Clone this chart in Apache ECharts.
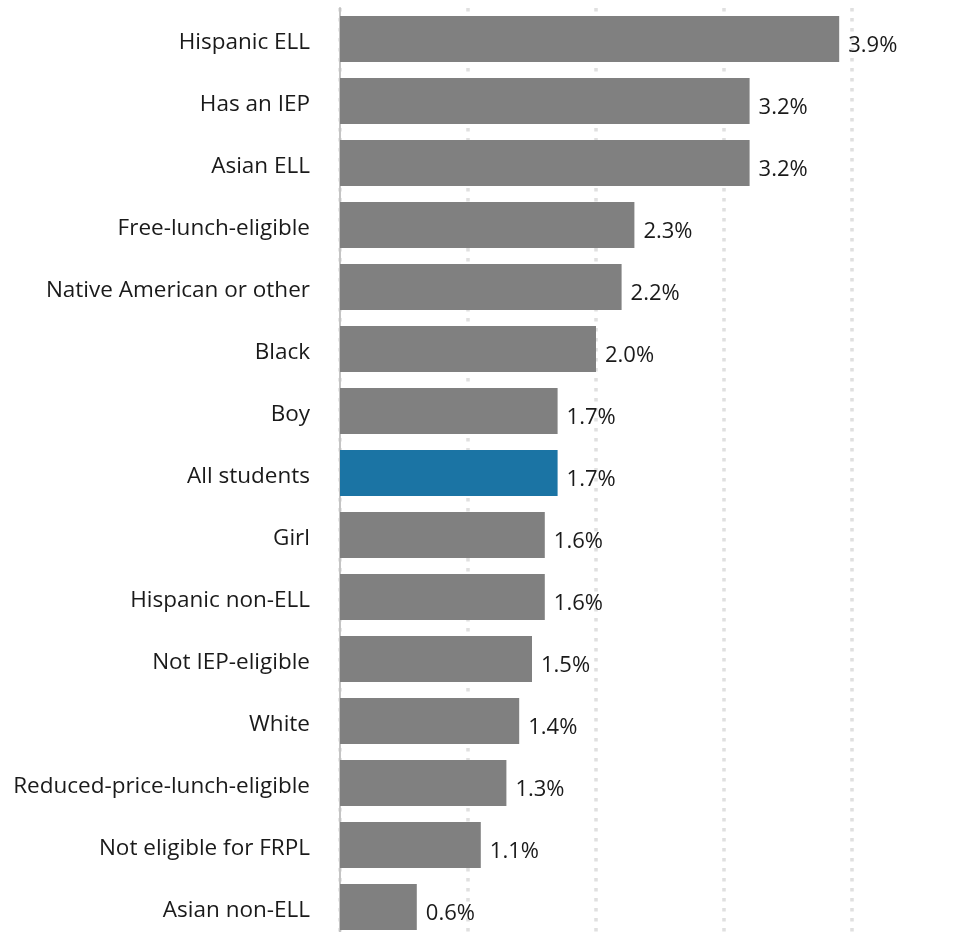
<!DOCTYPE html>
<html>
<head>
<meta charset="utf-8">
<script src="https://cdn.jsdelivr.net/npm/echarts@6/dist/echarts.min.js"></script>
<style>
  html, body { margin: 0; padding: 0; background: #fff; }
  #chart { width: 976px; height: 932px; }
</style>
</head>
<body>
<div id="chart"></div>
<script>
// Student groups, listed top to bottom
const categories = [
  'Hispanic ELL', 'Has an IEP', 'Asian ELL', 'Free-lunch-eligible',
  'Native American or other', 'Black', 'Boy', 'All students', 'Girl',
  'Hispanic non-ELL', 'Not IEP-eligible', 'White',
  'Reduced-price-lunch-eligible', 'Not eligible for FRPL', 'Asian non-ELL'
];
// Share of students, in percent
const values = [3.9, 3.2, 3.2, 2.3, 2.2, 2.0, 1.7, 1.7, 1.6, 1.6, 1.5, 1.4, 1.3, 1.1, 0.6];
// Group drawn in the highlight colour
const highlighted = 'All students';

const GRAY = '#808080';
const BLUE = '#1b74a4';
const FONT = '"Open Sans", Lato, sans-serif';

const chart = echarts.init(document.getElementById('chart'), null, { renderer: 'canvas' });

chart.setOption({
  animation: false,
  grid: {
    left: 340, top: 8, width: 512, height: 930,
    containLabel: false,
    outerBoundsMode: 'none'
  },
  xAxis: {
    type: 'value',
    min: 0,
    max: 4,
    interval: 1,
    axisLabel: { show: false },
    axisLine: { show: false },
    axisTick: { show: false },
    splitLine: {
      show: true,
      lineStyle: { color: '#e0e0e0', width: 3.5, type: [3.5, 6.5] }
    }
  },
  yAxis: {
    type: 'category',
    inverse: true,
    data: categories,
    axisLine: { show: true, lineStyle: { color: '#c4c4c4', width: 2 } },
    axisTick: { show: false },
    axisLabel: {
      margin: 30,
      formatter: name => '{t|' + name + '}',
      rich: {
        t: {
          padding: [7, 0, 0, 0],
          fontFamily: FONT,
          fontSize: 22.5,
          color: '#1a1a1a'
        }
      }
    }
  },
  series: [{
    type: 'bar',
    barCategoryGap: '25.8%',
    data: values.map((v, i) => ({
      value: v,
      itemStyle: { color: categories[i] === highlighted ? BLUE : GRAY }
    })),
    label: {
      show: true,
      position: 'right',
      distance: 9,
      offset: [0, 7],
      fontFamily: FONT,
      fontSize: 22,
      color: '#1a1a1a',
      formatter: p => p.value.toFixed(1) + '%'
    }
  }]
});
</script>
</body>
</html>
